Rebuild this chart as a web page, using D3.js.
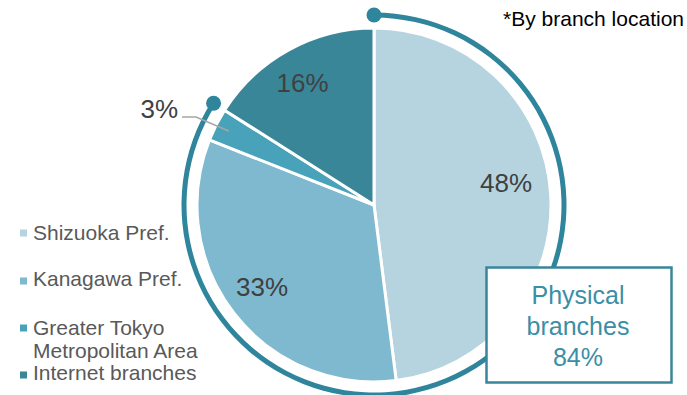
<!DOCTYPE html>
<html>
<head>
<meta charset="utf-8">
<script src="https://cdn.jsdelivr.net/npm/d3@7"></script>
<style>
  html, body { margin: 0; padding: 0; background: #fff; }
  svg { display: block; }
  text { font-family: 'Liberation Sans', Arimo, Arial, sans-serif; }
</style>
</head>
<body>
<svg id="chart" width="687" height="395"></svg>
<script>
// Branch share by location
const categories = ["Shizuoka Pref.", "Kanagawa Pref.", "Greater Tokyo Metropolitan Area", "Internet branches"];
const legendLines = [["Shizuoka Pref."], ["Kanagawa Pref."], ["Greater Tokyo", "Metropolitan Area"], ["Internet branches"]];
const shares = [48, 33, 3, 16];
const colors = ["#b6d4e0", "#7eb9cf", "#48a2b9", "#3a8699"];
const physicalShare = 84;
const physicalLines = ["Physical", "branches", physicalShare + "%"];
const note = "*By branch location";

const svg = d3.select("#chart");
const cx = 374, cy = 205, r = 177, ringR = 190;

const g = svg.append("g").attr("transform", `translate(${cx},${cy})`);

const pie = d3.pie().sort(null).value(d => d.v);
const arcs = pie(shares.map((v, i) => ({ v, i })));
const arc = d3.arc().innerRadius(0).outerRadius(r);

g.selectAll("path.slice")
  .data(arcs)
  .join("path")
  .attr("class", "slice")
  .attr("d", arc)
  .attr("fill", d => colors[d.data.i])
  .attr("stroke", "#fff")
  .attr("stroke-width", 3)
  .attr("stroke-linejoin", "round");

// Ring around the physical-branch slices
const angle = d3.scaleLinear().domain([0, 100]).range([0, 2 * Math.PI]);
const ringEnd = angle(physicalShare);
g.append("path")
  .attr("d", d3.arc().innerRadius(ringR - 2.5).outerRadius(ringR + 2.5).startAngle(0).endAngle(ringEnd)())
  .attr("fill", "#2f869c");
[0, ringEnd].forEach(a => {
  g.append("circle")
    .attr("cx", ringR * Math.sin(a))
    .attr("cy", -ringR * Math.cos(a))
    .attr("r", 7.5)
    .attr("fill", "#2f869c");
});

// Percentage labels (x centre, baseline), relative to pie centre
const labelPos = [
  [132, -13],   // 48%
  [-112, 91],   // 33%
  null,         // 3% (outside)
  [-71.5, -113] // 16%
];
arcs.forEach((d, i) => {
  if (!labelPos[i]) return;
  g.append("text")
    .attr("x", labelPos[i][0]).attr("y", labelPos[i][1])
    .attr("text-anchor", "middle")
    .attr("font-size", 26).attr("fill", "#404040")
    .text(shares[i] + "%");
});

// Outside label for the small slice with leader line
const small = arcs[2];
const mid = (small.startAngle + small.endAngle) / 2;
const px = (r - 14) * Math.sin(mid), py = -(r - 14) * Math.cos(mid);
g.append("polyline")
  .attr("points", `${px},${py} ${-178},${-88} ${-192},${-88}`)
  .attr("fill", "none").attr("stroke", "#a6a6a6").attr("stroke-width", 1.5);
g.append("text")
  .attr("x", -196).attr("y", -87)
  .attr("text-anchor", "end")
  .attr("font-size", 26).attr("fill", "#404040")
  .text(shares[2] + "%");

// Legend
const markerY = [233, 281, 328, 375];
const baseY = [240, 286, 335, 380];
legendLines.forEach((lines, i) => {
  svg.append("rect")
    .attr("x", 20).attr("y", markerY[i] - 3.5)
    .attr("width", 7).attr("height", 7)
    .attr("fill", colors[i]);
  lines.forEach((t, j) => {
    svg.append("text")
      .attr("x", 33).attr("y", baseY[i] + j * 23)
      .attr("font-size", 21).attr("fill", "#595959")
      .text(t);
  });
});

// Physical branches callout box
svg.append("rect")
  .attr("x", 486.5).attr("y", 267.5)
  .attr("width", 185).attr("height", 115)
  .attr("fill", "#fff").attr("stroke", "#3a8699").attr("stroke-width", 2.5);
physicalLines.forEach((t, j) => {
  svg.append("text")
    .attr("x", 578).attr("y", 303.5 + j * 31)
    .attr("text-anchor", "middle")
    .attr("font-size", 25).attr("fill", "#3a8fa6")
    .text(t);
});

// Note
svg.append("text")
  .attr("x", 684).attr("y", 26)
  .attr("text-anchor", "end")
  .attr("font-size", 21).attr("fill", "#000")
  .text(note);
</script>
</body>
</html>
